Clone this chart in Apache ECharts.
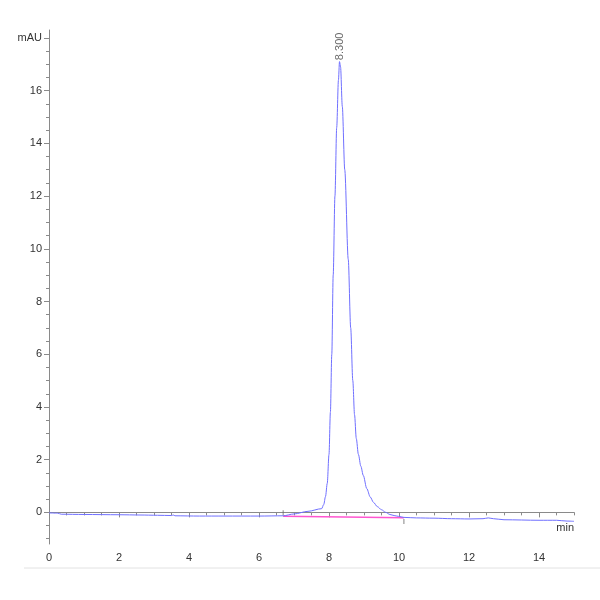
<!DOCTYPE html>
<html>
<head>
<meta charset="utf-8">
<script src="https://cdn.jsdelivr.net/npm/echarts@6/dist/echarts.min.js"></script>
<style>
  html, body { margin: 0; padding: 0; background: #fff; }
  #main { width: 600px; height: 600px; }
</style>
</head>
<body>
<div id="main"></div>
<script>
// chromatogram trace (min, mAU)
var traceTime = [0, 0.25, 0.35, 1.0, 2.0, 2.6, 3.1, 3.5, 3.55, 3.6, 4.3, 5.0, 6.0, 6.69,
    7.0, 7.4, 7.79, 7.85, 7.9, 7.95, 8.0, 8.04, 8.08, 8.12, 8.17, 8.22, 8.27, 8.30,
    8.33, 8.38, 8.45, 8.55, 8.62, 8.68, 8.73, 8.78, 8.84, 8.91, 8.98, 9.08, 9.18, 9.27, 9.38,
    9.5, 9.62, 9.74, 9.86, 9.98, 10.14, 10.5, 11.0, 11.5, 12.0, 12.4, 12.55, 12.7, 13.0, 14.0, 14.5, 14.8, 15.0];
var traceSignal = [-0.02, -0.03, -0.07, -0.08, -0.09, -0.10, -0.11, -0.12, -0.1, -0.13, -0.14, -0.14, -0.14, -0.13,
    -0.06, 0.04, 0.14, 0.3, 0.6, 1.1, 2.2, 3.8, 6.0, 9.0, 12.0, 14.6, 16.4, 17.1,
    16.9, 15.4, 13.0, 9.6, 7.0, 5.0, 3.7, 2.8, 2.2, 1.75, 1.4, 0.9, 0.58, 0.38, 0.22,
    0.1, 0.0, -0.08, -0.12, -0.15, -0.19, -0.21, -0.22, -0.24, -0.25, -0.24, -0.21, -0.24, -0.28, -0.3, -0.3, -0.33, -0.34];

// integration baseline
var baseTime = [6.69, 10.14];
var baseSignal = [-0.15, -0.2];

// peak
var peakTime = 8.30;
var peakHeight = 17.1;
var peakName = '8.300';

var xLabels = [0, 2, 4, 6, 8, 10, 12, 14];
var yLabels = [0, 2, 4, 6, 8, 10, 12, 14, 16, 18];

var xMinor = [];
for (var i = 0; i <= 30; i++) xMinor.push(i * 0.5);
var yMinor = [];
for (var j = -2; j <= 36; j++) yMinor.push(j * 0.5);

var font = "'Liberation Sans', Arial, sans-serif";
var axisColor = '#8a8a8a';

var chart = echarts.init(document.getElementById('main'));

var trace = traceTime.map(function (t, k) { return [t, traceSignal[k]]; });
var base = baseTime.map(function (t, k) { return [t, baseSignal[k]]; });

var option = {
    backgroundColor: '#fff',
    animation: false,
    grid: { left: 49, right: 26, top: 30, bottom: 56 },
    xAxis: [{
        type: 'value', min: 0, max: 15,
        axisLine: { lineStyle: { color: axisColor, width: 1 } },
        axisTick: { show: true, length: 5, customValues: xLabels, lineStyle: { color: axisColor } },
        axisLabel: { customValues: xLabels, color: '#333', fontSize: 11, fontFamily: font, margin: 8 },
        splitLine: { show: false },
        name: 'min', nameLocation: 'end', nameGap: 0,
        nameTextStyle: { color: '#333', fontSize: 11, fontFamily: font, align: 'right', verticalAlign: 'top', padding: [10, 0, 0, 0] }
    }, {
        type: 'value', min: 0, max: 15, position: 'bottom',
        axisLine: { show: false },
        axisTick: { show: true, length: 3, customValues: xMinor, lineStyle: { color: axisColor } },
        axisLabel: { show: false },
        splitLine: { show: false }
    }],
    yAxis: [{
        type: 'value', min: -1.2, max: 18.3,
        axisLine: { show: true, lineStyle: { color: axisColor, width: 1 } },
        axisTick: { show: true, length: 5, customValues: yLabels, lineStyle: { color: axisColor } },
        axisLabel: {
            customValues: yLabels, color: '#333', fontSize: 11, fontFamily: font, margin: 7,
            formatter: function (v) { return v === 18 ? 'mAU' : String(v); }
        },
        splitLine: { show: false }
    }, {
        type: 'value', min: -1.2, max: 18.3, position: 'left', offset: 0,
        axisLine: { show: false },
        axisTick: { show: true, length: 3, customValues: yMinor, lineStyle: { color: axisColor } },
        axisLabel: { show: false },
        splitLine: { show: false }
    }],
    series: [{
        type: 'line',
        data: base,
        symbol: 'none',
        lineStyle: { color: '#ff55d0', width: 1.5 },
        z: 2
    }, {
        type: 'line',
        data: trace,
        symbol: 'none',
        smooth: 0.3,
        smoothMonotone: 'x',
        lineStyle: { color: '#7070ff', width: 1 },
        z: 3
    }, {
        type: 'scatter',
        data: [[baseTime[0], traceSignal[traceTime.indexOf(baseTime[0])]]],
        symbol: 'rect', symbolSize: [1, 5], symbolOffset: [0, -3],
        itemStyle: { color: '#666' }, z: 4
    }, {
        type: 'scatter',
        data: [[baseTime[1], traceSignal[traceTime.indexOf(baseTime[1])]]],
        symbol: 'rect', symbolSize: [1, 5], symbolOffset: [0, 4],
        itemStyle: { color: '#666' }, z: 4
    }, {
        type: 'scatter',
        data: [[peakTime, peakHeight]],
        symbol: 'circle', symbolSize: 1,
        itemStyle: { color: 'rgba(0,0,0,0)' },
        label: {
            show: true, position: 'top', distance: 1, rotate: 90,
            align: 'left', verticalAlign: 'middle',
            formatter: peakName, color: '#444', fontSize: 11, fontFamily: font
        },
        z: 5
    }],
    graphic: [{
        type: 'line',
        shape: { x1: 24, y1: 568, x2: 600, y2: 568 },
        style: { stroke: '#e2e2e2', lineWidth: 1 },
        silent: true
    }]
};

chart.setOption(option);
</script>
</body>
</html>
